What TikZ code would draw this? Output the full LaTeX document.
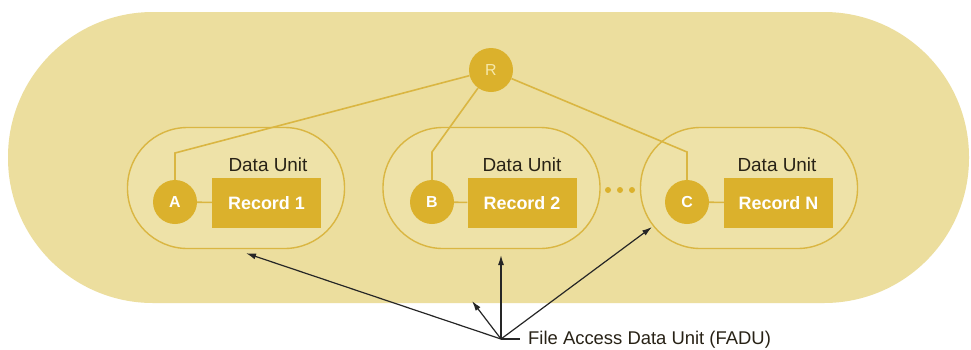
\documentclass[tikz,border=0pt]{standalone}
\usepackage{fontspec}
\setmainfont{Liberation Sans}
\usetikzlibrary{arrows.meta}
\definecolor{bgbeige}{RGB}{236,222,158}
\definecolor{unitfill}{RGB}{238,226,168}
\definecolor{gold}{RGB}{219,177,44}
\definecolor{goldline}{RGB}{218,182,66}
\definecolor{darktext}{RGB}{40,34,22}
\definecolor{paletext}{RGB}{246,232,170}
\begin{document}
\begin{tikzpicture}[x=1bp,y=-1bp,
 unitbox/.style={draw=goldline, line width=1.4bp, fill=unitfill, rounded corners=60bp, minimum width=217bp, minimum height=121bp, inner sep=0pt},
 keynode/.style={circle, fill=gold, minimum size=44bp, inner sep=0pt, text=white, font=\fontsize{16}{18}\selectfont\bfseries},
 recbox/.style={fill=gold, minimum width=109bp, minimum height=50bp, inner sep=0pt, text=white, font=\fontsize{18}{20}\selectfont\bfseries},
 dulabel/.style={text=darktext, font=\fontsize{19}{21}\selectfont, inner sep=0pt},
 link/.style={draw=goldline, line width=1.6bp},
 pointer/.style={draw=black!85, line width=1.2bp, -{Latex[length=10bp,width=6bp]}},
 dotmark/.style={circle, fill=gold, minimum size=6bp, inner sep=0pt}
]
\useasboundingbox (0,0) rectangle (971,349);
\fill[white] (0,0) rectangle (971,349);
\fill[bgbeige, rounded corners=145bp] (8,12) rectangle (969,303);

% data units
\node[unitbox] (u1) at (236,188) {};
\node[unitbox] (u2) at (491.5,188) {};
\node[unitbox] (u3) at (749,188) {};

% labels
\node[dulabel] (d1) at (268,165) {Data Unit};
\node[dulabel] (d2) at (522,165) {Data Unit};
\node[dulabel] (d3) at (777,165) {Data Unit};

% records
\node[recbox] (r1) at (266.5,203) {Record 1};
\node[recbox] (r2) at (522,203) {Record 2};
\node[recbox] (r3) at (778.5,203) {Record N};

% key circles
\node[keynode] (A) at (175,202) {A};
\node[keynode] (B) at (432,202) {B};
\node[keynode] (C) at (687,202) {C};
\node[keynode, text=paletext, font=\fontsize{16}{18}\selectfont] (R) at (491,70) {R};

% links
\coordinate (ka) at (175,153);
\coordinate (kb) at (432,152);
\coordinate (kc) at (687,152);
\draw[link] (R) -- (ka) -- (A);
\draw[link] (R) -- (kb) -- (B);
\draw[link] (R) -- (kc) -- (C);
\draw[link] (A) -- (r1);
\draw[link] (B) -- (r2);
\draw[link] (C) -- (r3);

% dots
\node[dotmark] (p1) at (608,190) {};
\node[dotmark] (p2) at (620,190) {};
\node[dotmark] (p3) at (632,190) {};

% FADU pointers
\coordinate (fadu) at (501,339);
\coordinate (t1) at ([xshift=10bp,yshift=-4bp]u1.south);
\coordinate (t2) at (501,255);
\coordinate (t3) at (652,227);
\coordinate (t4) at (472,301);
\coordinate (lj) at (520,339);
\draw[pointer] (fadu) -- (t1);
\draw[pointer] (fadu) -- (t2);
\draw[pointer] (fadu) -- (t3);
\draw[pointer] (fadu) -- (t4);
\draw[draw=black!85, line width=1.2bp] (fadu) -- (lj);
\node[anchor=base west, inner sep=0pt, text=darktext, font=\fontsize{18.5}{21}\selectfont] (lab) at (528,344) {File Access Data Unit (FADU)};
\end{tikzpicture}
\end{document}
